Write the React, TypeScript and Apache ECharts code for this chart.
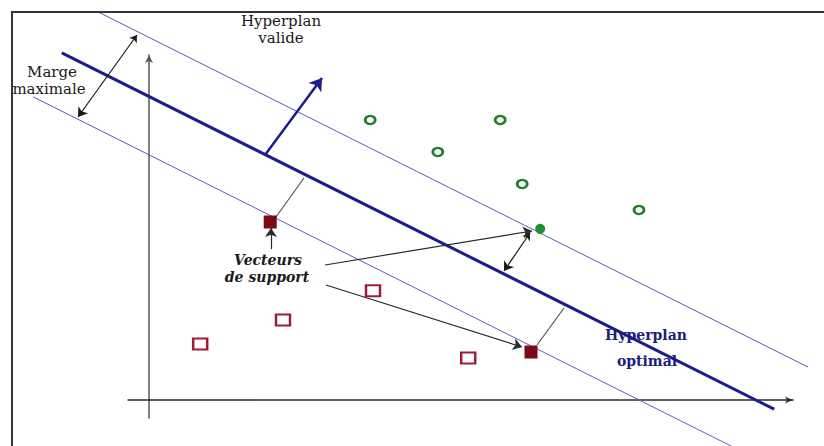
import React, { useEffect, useRef } from "react";
import * as echarts from "echarts";

// data units: origin at the drawn axes' intersection
const optimalLine = [[-2.18, 8.68], [15.63, -0.23]];
const upperMargin = [[-1.23, 9.68], [16.48, 0.82]];
const lowerMargin = [[-2.9, 7.58], [14.65, -1.2]];

const greenOpen = [[5.53, 7.0], [8.78, 7.0], [7.22, 6.2], [9.33, 5.4], [12.25, 4.75]];
const greenSupport = [[9.78, 4.28]];
const redOpen = [[1.28, 1.4], [3.35, 2.0], [5.6, 2.73], [7.98, 1.05]];
const redSupport = [[3.03, 4.45], [9.55, 1.2]];

const doubleArrows = [
  [[-0.3, 9.125], [-1.775, 7.075]],
  [[9.525, 4.175], [8.875, 3.225]],
];
const singleArrows = [
  [[3.05, 3.775], [3.05, 4.3]],
  [[4.4, 3.375], [9.575, 4.225]],
  [[4.425, 2.875], [9.325, 1.325]],
];
const plainLines = [
  [[3.175, 4.575], [3.875, 5.55]],
  [[9.7, 1.375], [10.375, 2.3]],
];
const normalVector = [[[2.9, 6.125], [4.325, 8.05]]];

export default function App() {
  const ref = useRef<HTMLDivElement>(null);
  useEffect(() => {
    document.body.style.margin = "0";
    const chart = echarts.init(ref.current!, null, { renderer: "svg" });
    const serif = "DejaVu Serif";
    const txt = (text: string, x: number, y: number, font: string, fill = "#1a1a1a") => ({
      type: "text",
      x,
      y,
      z: 100,
      style: { text, font, fill, align: "center", verticalAlign: "middle" },
    });
    const linesS = (data: number[][][], symbol: string[], color: string, width: number, size: number[] | number, z = 3) => ({
      type: "lines",
      coordinateSystem: "cartesian2d",
      clip: false,
      symbol,
      symbolSize: size,
      lineStyle: { color, width, opacity: 1 },
      data: data.map((c) => ({ coords: c })),
      z,
    });
    chart.setOption({
      animation: false,
      backgroundColor: "#ffffff",
      grid: { left: 128, right: 31, top: 55, bottom: 28 },
      xAxis: {
        type: "value",
        min: -0.525,
        max: 16.1,
        axisLine: { show: true, onZero: true, symbol: ["none", "arrow"], symbolSize: [5, 8], lineStyle: { color: "#2a2a2a", width: 1.5 } },
        axisTick: { show: false },
        axisLabel: { show: false },
        splitLine: { show: false },
      },
      yAxis: {
        type: "value",
        min: -0.45,
        max: 8.625,
        axisLine: { show: true, onZero: true, symbol: ["none", "arrow"], symbolSize: [6, 8], lineStyle: { color: "#555", width: 1.5 } },
        axisTick: { show: false },
        axisLabel: { show: false },
        splitLine: { show: false },
      },
      graphic: [
        { type: "polyline", shape: { points: [[12, 446], [12, 12], [824, 12]] }, style: { stroke: "#333", lineWidth: 2, fill: null }, z: 100 },
        txt("Hyperplan", 281, 21, `15px ${serif}`),
        txt("valide", 281, 38, `15px ${serif}`),
        txt("Marge", 52, 72, `15px ${serif}`),
        txt("maximale", 49, 89, `15px ${serif}`),
        txt("Vecteurs", 268, 260, `italic bold 14px ${serif}`),
        txt("de support", 267, 277, `italic bold 14px ${serif}`),
        txt("Hyperplan", 646, 335, `bold 14px ${serif}`, "#1e1e78"),
        txt("optimal", 647, 361, `bold 14px ${serif}`, "#1e1e78"),
      ],
      series: [
        linesS([upperMargin, lowerMargin], ["none", "none"], "#5c5cb0", 1, 1, 2),
        linesS([optimalLine], ["none", "none"], "#1c1c8e", 3, 1, 2),
        linesS(doubleArrows, ["arrow", "arrow"], "#1a1a1a", 1.2, [7, 9]),
        linesS(singleArrows, ["none", "arrow"], "#2a2a2a", 1.2, [7, 9]),
        linesS(plainLines, ["none", "none"], "#555", 1.2, 1),
        linesS(normalVector, ["none", "arrow"], "#1c1c8e", 2.5, [9, 12]),
        {
          type: "scatter",
          data: greenOpen,
          clip: false,
          symbol: "circle",
          symbolSize: [10, 8],
          itemStyle: { color: "#fff", borderColor: "#1f7f2a", borderWidth: 2.5, opacity: 1 },
          z: 5,
        },
        {
          type: "scatter",
          data: greenSupport,
          clip: false,
          symbol: "circle",
          symbolSize: 10,
          itemStyle: { color: "#1f8f2f", opacity: 1 },
          z: 5,
        },
        {
          type: "scatter",
          data: redOpen,
          clip: false,
          symbol: "rect",
          symbolSize: [14, 11],
          itemStyle: { color: "#fff", borderColor: "#a01c36", borderWidth: 2.2, opacity: 1 },
          z: 5,
        },
        {
          type: "scatter",
          data: redSupport,
          clip: false,
          symbol: "rect",
          symbolSize: 13,
          itemStyle: { color: "#7a0a14", opacity: 1 },
          z: 5,
        },
      ],
    });
    return () => chart.dispose();
  }, []);
  return <div ref={ref} style={{ position: "fixed", left: 0, top: 0, width: 824, height: 446 }} />;
}
